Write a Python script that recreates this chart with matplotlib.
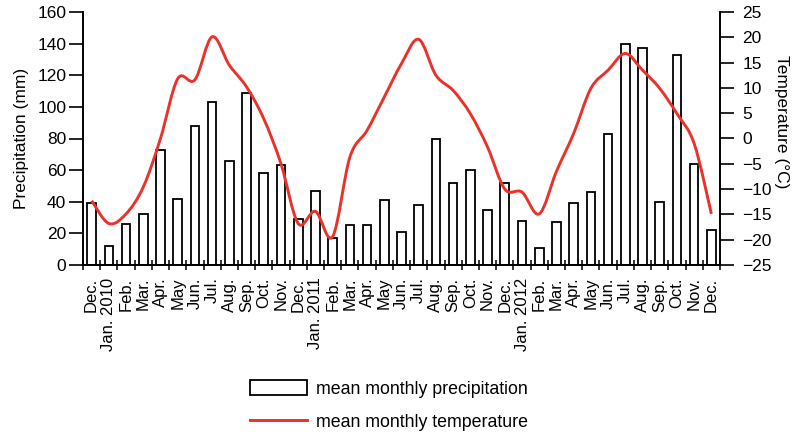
import numpy as np
import matplotlib
matplotlib.use("Agg")
import matplotlib.pyplot as plt
from matplotlib.path import Path
from matplotlib.patches import PathPatch, Patch
from matplotlib.lines import Line2D

plt.rcParams['font.family'] = ['Liberation Sans', 'DejaVu Sans']

months = ["Dec.", "Jan. 2010", "Feb.", "Mar.", "Apr.", "May", "Jun.", "Jul.", "Aug.", "Sep.", "Oct.", "Nov.",
          "Dec.", "Jan. 2011", "Feb.", "Mar.", "Apr.", "May", "Jun.", "Jul.", "Aug.", "Sep.", "Oct.", "Nov.",
          "Dec.", "Jan. 2012", "Feb.", "Mar.", "Apr.", "May", "Jun.", "Jul.", "Aug.", "Sep.", "Oct.", "Nov.",
          "Dec."]
precip = [39, 12, 26, 32, 73, 42, 88, 103, 66, 109, 58, 63,
          29, 47, 17, 25, 25, 41, 21, 38, 80, 52, 60, 35,
          52, 28, 11, 27, 39, 46, 83, 140, 137, 40, 133, 64,
          22]
temp = [-12.3, -16.8, -14.9, -9.6, 0.0, 11.8, 11.6, 20.1, 14.5, 10.2, 3.9, -5.0,
        -16.8, -14.4, -19.4, -3.7, 1.6, 8.2, 14.8, 19.6, 12.5, 9.5, 4.9, -1.7,
        -10.0, -10.6, -14.9, -6.5, 1.0, 9.9, 13.5, 16.8, 13.5, 9.9, 4.9, -1.0,
        -14.9]

FS = 12.5
RED = '#e8322a'

fig = plt.figure(figsize=(8, 4.34), dpi=100)
ax = fig.add_axes([83/800, 1-265/434, (720-83)/800, (265-12)/434])
ax2 = ax.twinx()

x = np.arange(len(months))
ax.bar(x, precip, width=0.5, facecolor='white', edgecolor='black', linewidth=1.3, zorder=2)
ax.set_xlim(-0.5, len(months)-0.5)
ax.set_ylim(0, 160)
ax.set_yticks(np.arange(0, 161, 20))
ax.set_xticks(x)
ax.set_xticklabels(months, rotation=90, fontsize=12, va='top', ha='center')
ax.set_xticks(np.arange(-0.5, len(months), 1), minor=True)
ax.tick_params(axis='x', which='major', length=0, pad=9)
ax.tick_params(axis='x', which='minor', length=7, width=1.1, direction='inout')
ax.tick_params(axis='y', labelsize=FS, length=10, width=1.2, pad=2)
ax.set_ylabel("Precipitation (mm)", fontsize=FS, labelpad=6)

# smooth temperature curve via cubic Bezier (Catmull-Rom control points)
P = np.column_stack([x, temp]).astype(float)
n = len(P)
verts = [P[0]]
codes = [Path.MOVETO]
for i in range(n-1):
    p0 = P[i-1] if i > 0 else P[i]
    p1 = P[i]
    p2 = P[i+1]
    p3 = P[i+2] if i+2 < n else P[i+1]
    c1 = p1 + (p2 - p0) / 6.0
    c2 = p2 - (p3 - p1) / 6.0
    verts += [c1, c2, p2]
    codes += [Path.CURVE4]*3
path = Path(verts, codes)
ax2.add_patch(PathPatch(path, facecolor='none', edgecolor=RED, linewidth=2.1, zorder=3))
ax2.set_ylim(-25, 25)
ax2.set_yticks(np.arange(-25, 26, 5))
ax2.tick_params(axis='y', labelsize=FS, length=10, width=1.2, pad=6)
ax2.set_ylabel("Temperature (°C)", fontsize=FS, rotation=-90, labelpad=12)
ax2.yaxis.label.set_y(0.565)

for a in (ax, ax2):
    a.spines['top'].set_visible(False)
    for s in ('left', 'right', 'bottom'):
        a.spines[s].set_linewidth(1.2)

handles = [Patch(facecolor='white', edgecolor='black', linewidth=1.3),
           Line2D([0], [0], color=RED, linewidth=2.1)]
fig.legend(handles, ["mean monthly precipitation", "mean monthly temperature"],
           loc='upper left', bbox_to_anchor=(234/800, 1-364/434), frameon=False,
           fontsize=12.8, handlelength=3.2, handleheight=0.9, labelspacing=0.9,
           handletextpad=0.5)

fig.savefig("out.png", dpi=100)
